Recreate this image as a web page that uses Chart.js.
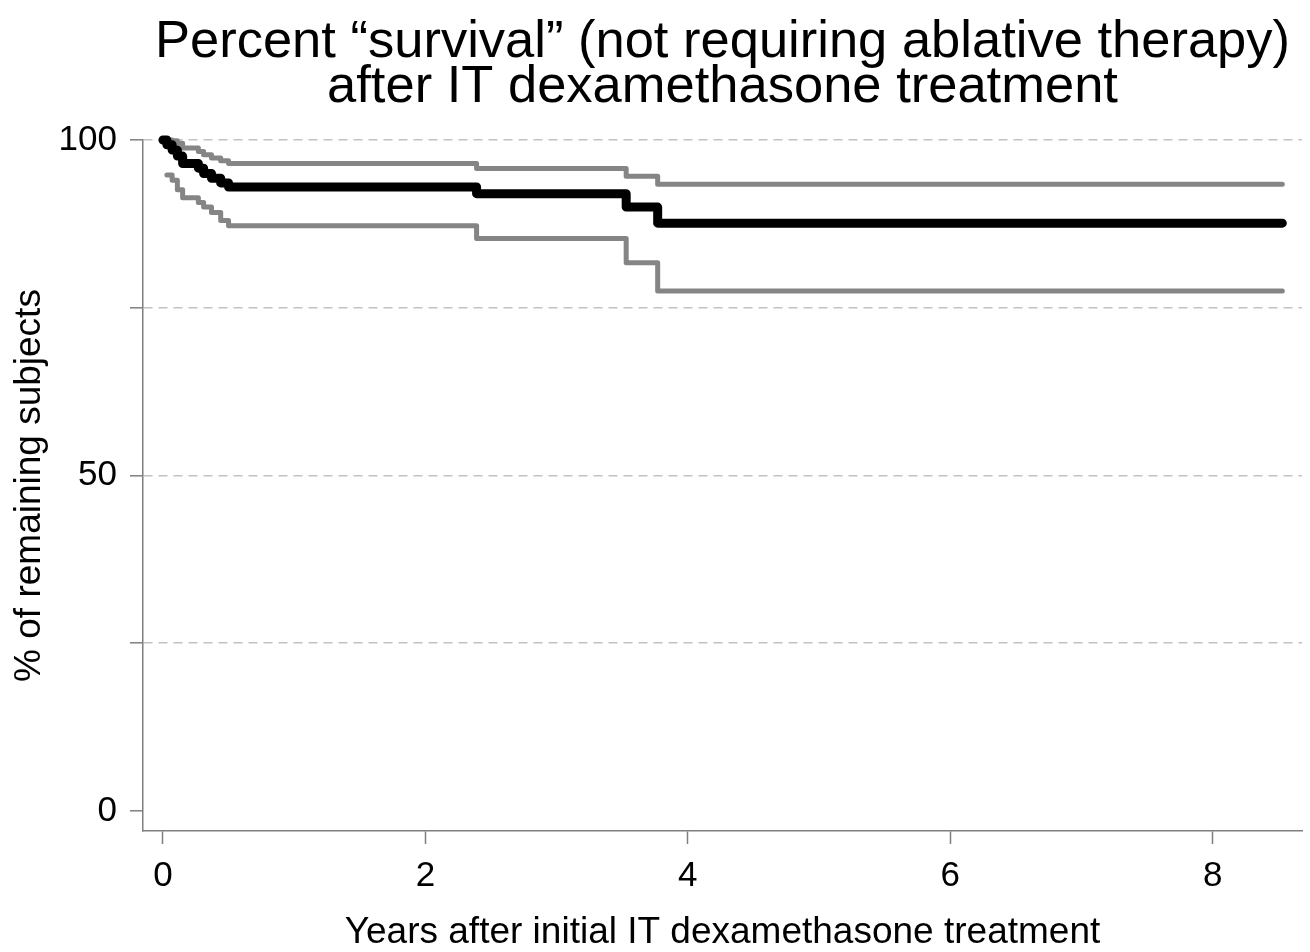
<!DOCTYPE html>
<html>
<head>
<meta charset="utf-8">
<script src="https://cdn.jsdelivr.net/npm/chart.js@4"></script>
<style>
  html, body { margin: 0; padding: 0; background: #ffffff; }
  #wrap { width: 1310px; height: 952px; }
</style>
</head>
<body>
<div id="wrap"><canvas id="c" width="1310" height="952"></canvas></div>
<script>
// ---- data ----
const titleLines = ['Percent \u201csurvival\u201d (not requiring ablative therapy)', 'after IT dexamethasone treatment'];
const xAxisTitle = 'Years after initial IT dexamethasone treatment';
const yAxisTitle = '% of remaining subjects';

const xTickValues = [0, 2, 4, 6, 8];
const yTickValues = [0, 25, 50, 75, 100];
const yTickLabels = ['0', '', '50', '', '100'];

const mainTimes = [0, 0.03, 0.07, 0.11, 0.15, 0.27, 0.31, 0.37, 0.44, 0.50, 2.39, 3.53, 3.77, 8.53];
const mainSurv  = [100, 99.3, 98.5, 97.6, 96.5, 95.8, 95.0, 94.3, 93.6, 93.0, 92.0, 90.0, 87.6, 87.6];

const upperTimes = [0, 0.03, 0.07, 0.11, 0.15, 0.27, 0.31, 0.37, 0.44, 0.50, 2.39, 3.53, 3.77, 8.53];
const upperSurv  = [100, 100, 99.9, 99.5, 98.8, 98.3, 97.8, 97.3, 96.9, 96.5, 95.75, 94.6, 93.4, 93.4];

const lowerTimes = [0.03, 0.07, 0.11, 0.15, 0.27, 0.31, 0.37, 0.44, 0.50, 2.39, 3.53, 3.77, 8.53];
const lowerSurv  = [94.8, 94.0, 92.6, 91.4, 90.7, 90.0, 89.2, 88.0, 87.2, 85.3, 81.7, 77.5, 77.5];

// ---- build ----
function pts(ts, vs) { return ts.map((t, i) => ({ x: t, y: vs[i] })); }

const FONT = "'Liberation Sans', Arial, Helvetica, sans-serif";
const GREY_LINE = '#858585';
const AXIS_COL = '#7f7f7f';
const GRID_COL = '#c2c2c2';

function lineDs(label, data, color, width) {
  return {
    label: label,
    data: data,
    borderColor: color,
    borderWidth: width,
    stepped: 'before',
    pointRadius: 0,
    fill: false,
    clip: false,
    borderCapStyle: 'round',
    borderJoinStyle: 'round'
  };
}

new Chart(document.getElementById('c'), {
  type: 'line',
  data: {
    datasets: [
      lineDs('Survival', pts(mainTimes, mainSurv), '#000000', 9),
      lineDs('Upper CI', pts(upperTimes, upperSurv), GREY_LINE, 5),
      lineDs('Lower CI', pts(lowerTimes, lowerSurv), GREY_LINE, 5)
    ]
  },
  options: {
    responsive: false,
    devicePixelRatio: 1,
    animation: false,
    layout: { padding: { left: 0, right: 8, top: 0, bottom: 0 } },
    plugins: {
      legend: { display: false },
      tooltip: { enabled: false },
      title: {
        display: true,
        text: titleLines,
        fullSize: false,
        color: '#000000',
        font: { family: FONT, size: 52.5, weight: 'normal', lineHeight: 0.86 },
        padding: { top: 20, bottom: 29.7 }
      }
    },
    scales: {
      x: {
        type: 'linear',
        min: -0.152,
        max: 8.68,
        afterFit: (s) => { s.height = 121; },
        afterBuildTicks: (s) => { s.ticks = xTickValues.map(v => ({ value: v })); },
        border: { display: true, color: AXIS_COL, width: 1.5 },
        grid: {
          drawOnChartArea: false,
          drawTicks: true,
          tickLength: 13,
          tickColor: AXIS_COL,
          tickWidth: 1.5
        },
        ticks: {
          color: '#000000',
          font: { family: FONT, size: 35, lineHeight: 1.2 },
          padding: 11,
          maxRotation: 0,
          autoSkip: false,
          callback: (v) => String(v)
        },
        title: {
          display: true,
          text: xAxisTitle,
          color: '#000000',
          font: { family: FONT, size: 37, lineHeight: 1.0 },
          padding: { top: 0, bottom: 1 }
        }
      },
      y: {
        type: 'linear',
        min: -3,
        max: 100,
        afterFit: (s) => { s.width = 143; },
        afterBuildTicks: (s) => { s.ticks = yTickValues.map(v => ({ value: v })); },
        border: { display: true, color: AXIS_COL, width: 1.5, dash: [9, 6] },
        grid: {
          drawOnChartArea: true,
          drawTicks: true,
          tickLength: 13,
          tickColor: AXIS_COL,
          tickWidth: 1.5,
          tickBorderDash: [],
          color: (ctx) => (ctx.tick && ctx.tick.value === 0 ? 'rgba(0,0,0,0)' : GRID_COL),
          lineWidth: 1.6
        },
        ticks: {
          color: '#000000',
          font: { family: FONT, size: 35, lineHeight: 1.2 },
          padding: 13,
          autoSkip: false,
          callback: (v) => {
            const i = yTickValues.indexOf(v);
            return i >= 0 ? yTickLabels[i] : '';
          }
        },
        title: {
          display: true,
          text: yAxisTitle,
          color: '#000000',
          font: { family: FONT, size: 37, lineHeight: 1.2 },
          padding: { top: 8, bottom: 0 }
        }
      }
    }
  }
});
</script>
</body>
</html>
